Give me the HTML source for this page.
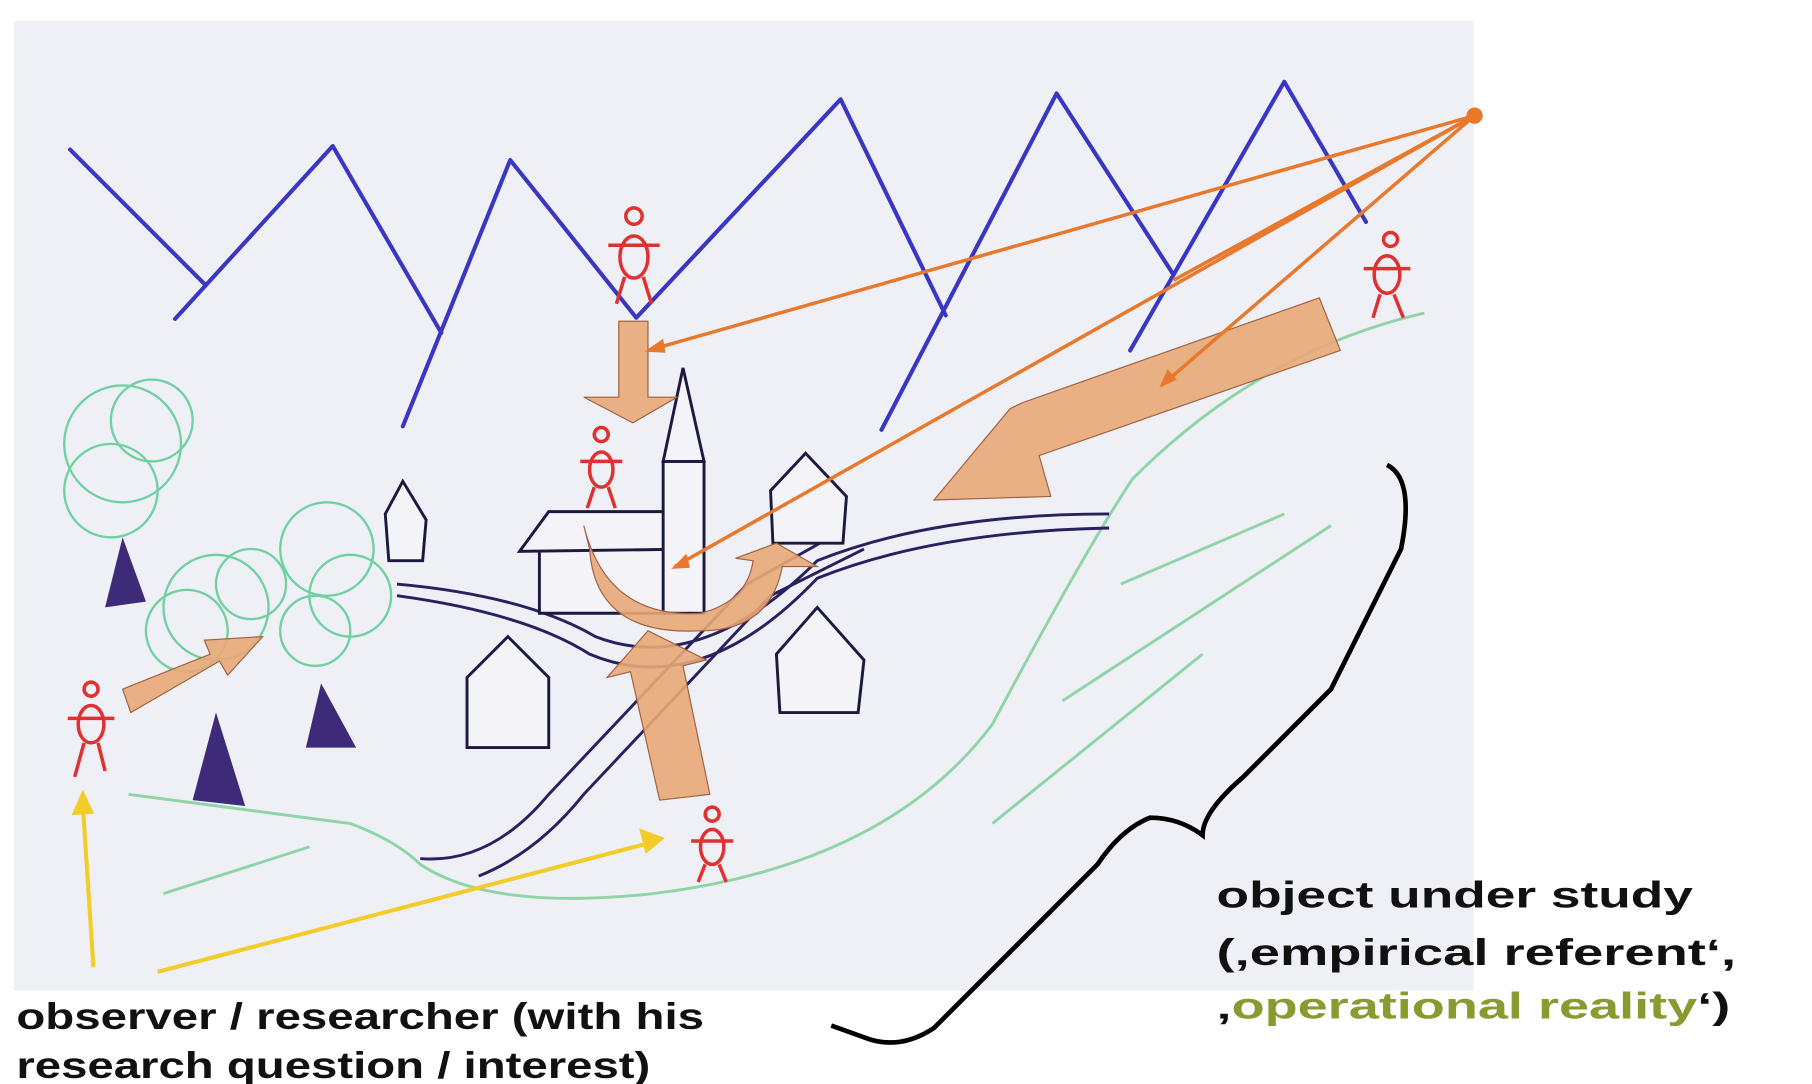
<!DOCTYPE html>
<html><head><meta charset="utf-8"><style>
html,body{margin:0;padding:0;background:#fff;}
svg{display:block;}
text{font-family:"Liberation Sans",sans-serif;font-weight:bold;}
</style></head><body>
<svg width="1812" height="1084" viewBox="0 0 1552 928" preserveAspectRatio="none">
<rect x="0" y="0" width="1552" height="928" fill="#ffffff"/>
<rect x="12" y="18" width="1250" height="830" fill="#eff0f6"/>
<g fill="none" stroke="#3a36c4" stroke-width="3.5" stroke-linecap="round" stroke-linejoin="round">
<polyline points="60,128 175,243"/>
<polyline points="150,273 285,125 378,285"/>
<polyline points="345,365 437,137 545,272 720,85 810,270"/>
<polyline points="755,368 905,80 1005,235"/>
<polyline points="968,300 1100,70 1170,190"/>
</g>
<g fill="none" stroke="#8fd4a8" stroke-width="2.5">
<path d="M110,680 L300,705 Q340,720 360,740 Q420,780 560,765 Q760,740 850,620 Q930,470 970,410 Q1080,300 1220,268"/>
<path d="M140,765 L265,725"/>
<path d="M850,705 L1030,560"/>
<path d="M910,600 L1140,450"/>
<path d="M960,500 L1100,440"/>
</g>
<g fill="none" stroke="#6fd0a0" stroke-width="2">
<circle cx="105" cy="380" r="50"/><circle cx="130" cy="360" r="35"/><circle cx="95" cy="420" r="40"/>
<circle cx="185" cy="520" r="45"/><circle cx="160" cy="540" r="35"/><circle cx="215" cy="500" r="30"/>
<circle cx="280" cy="470" r="40"/><circle cx="300" cy="510" r="35"/><circle cx="270" cy="540" r="30"/>
</g>
<g fill="#3d2a78">
<polygon points="90,520 105,460 125,515"/>
<polygon points="165,685 185,610 210,690"/>
<polygon points="262,640 275,585 305,640"/>
</g>
<g fill="none" stroke="#2a2060" stroke-width="2.5">
<path d="M340,500 Q450,510 510,545 Q600,580 700,480 Q800,440 950,440"/>
<path d="M340,510 Q450,525 505,560 Q600,600 700,495 Q800,455 950,452"/>
<path d="M360,735 Q420,740 470,680 L640,500 L720,455"/>
<path d="M410,750 Q460,730 500,680 L660,510 L740,470"/>
</g>
<g fill="#f4f4f8" stroke="#1a1a40" stroke-width="2.5">
<polygon points="400,580 435,545 470,580 470,640 400,640"/>
<polygon points="462,470 600,470 600,525 462,525"/>
<polygon points="445,472 470,438 580,438 600,470"/>
<rect x="568" y="395" width="35" height="130"/>
<polygon points="568,395 585,315 603,395"/>
<polygon points="660,420 690,388 725,425 722,465 662,465"/>
<polygon points="665,560 700,520 740,565 735,610 668,610"/>
<polygon points="330,440 345,412 365,445 362,480 333,480"/>
</g>
<g fill="#e8a878" fill-opacity="0.9" stroke="#a06040" stroke-width="1">
<polygon points="530,275 555,275 555,340 580,340 542,362 500,340 530,340"/>
<polygon points="1130,255 1148,300 890,390 900,425 800,428 865,350 875,345"/>
<polygon points="105,590 180,560 175,548 225,545 195,578 188,566 112,610"/>
<polygon points="540,575 520,580 555,540 605,565 585,570 608,680 565,685"/>
<path d="M500,450 Q520,530 600,525 Q640,515 645,480 L630,478 L665,465 L700,485 L670,485 Q660,540 600,540 Q510,545 505,470 Z"/>
</g>
<g stroke="#e8782c" stroke-width="3" fill="none">
<line x1="1263" y1="99" x2="555" y2="300"/>
<line x1="1263" y1="99" x2="578" y2="485"/>
<line x1="1263" y1="99" x2="995" y2="330"/>
<line x1="1263" y1="99" x2="1005" y2="240"/>
</g>
<circle cx="1263" cy="99" r="7" fill="#e8782c"/>
<g fill="#e8782c">
<polygon points="552,301 568,290 570,302"/>
<polygon points="575,487 588,474 591,486"/>
<polygon points="993,332 1000,316 1008,325"/>
</g>
<g fill="none" stroke="#e03030" stroke-width="3">
<g transform="translate(543,215)"><circle cx="0" cy="-30" r="7"/><ellipse cx="0" cy="5" rx="12" ry="18"/><path d="M-22,-5 L22,-5 M-8,22 L-15,45 M8,22 L15,45"/></g>
<g transform="translate(515,400)"><circle cx="0" cy="-28" r="6"/><ellipse cx="0" cy="2" rx="10" ry="15"/><path d="M-18,-5 L18,-5 M-6,17 L-12,35 M6,17 L12,35"/></g>
<g transform="translate(1188,240)"><circle cx="3" cy="-35" r="6"/><ellipse cx="0" cy="-5" rx="11" ry="16"/><path d="M-20,-10 L20,-10 M-6,12 L-12,32 M6,12 L14,32"/></g>
<g transform="translate(78,620)"><circle cx="0" cy="-30" r="6"/><ellipse cx="0" cy="0" rx="11" ry="16"/><path d="M-20,-5 L20,-5 M-6,16 L-14,45 M6,16 L12,40"/></g>
<g transform="translate(610,725)"><circle cx="0" cy="-28" r="6"/><ellipse cx="0" cy="0" rx="10" ry="15"/><path d="M-18,-5 L18,-5 M-6,15 L-12,30 M6,15 L12,30"/></g>
</g>
<g stroke="#f2cc28" stroke-width="3.5" fill="#f2cc28">
<line x1="80" y1="828" x2="71" y2="690"/>
<polygon points="71,680 64,696 78,695"/>
<line x1="135" y1="832" x2="555" y2="722"/>
<polygon points="566,718 550,712 554,728"/>
</g>
<path d="M1188,398 Q1212,410 1200,470 L1140,590 L1065,665 Q1030,695 1030,715 Q1010,700 985,700 Q960,710 940,740 L800,880 Q770,900 740,888 L712,878" fill="none" stroke="#000" stroke-width="4"/>
<text x="14" y="881" font-size="32" textLength="589" lengthAdjust="spacingAndGlyphs" fill="#111">observer / researcher (with his</text>
<text x="14" y="923" font-size="32" textLength="543" lengthAdjust="spacingAndGlyphs" fill="#111">research question / interest)</text>
<text x="1042" y="777" font-size="32" textLength="408" lengthAdjust="spacingAndGlyphs" fill="#111">object under study</text>
<text x="1042" y="826" font-size="32" textLength="445" lengthAdjust="spacingAndGlyphs" fill="#111">(‚empirical referent‘,</text>
<text x="1042" y="872" font-size="32" textLength="440" lengthAdjust="spacingAndGlyphs" fill="#111">‚<tspan fill="#8a9a30">operational reality</tspan>‘)</text>
</svg>
</body></html>
